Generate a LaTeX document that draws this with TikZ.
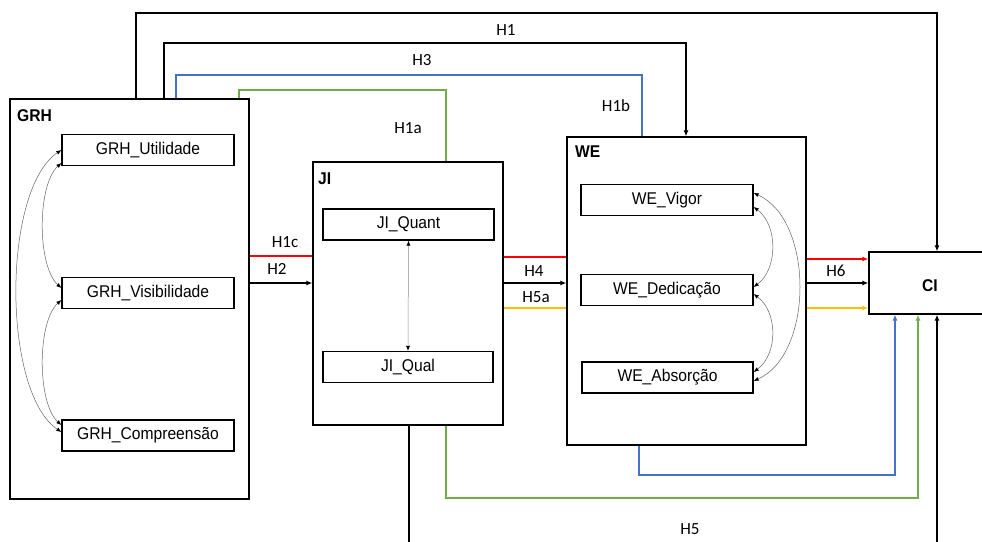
\documentclass[tikz,border=0pt]{standalone}
\usepackage{fontspec}
\setmainfont{Carlito}
\newfontfamily\boxfont[FakeStretch=0.92]{Liberation Sans}
\usetikzlibrary{arrows.meta}
\definecolor{cred}{RGB}{255,0,0}
\definecolor{cblue}{RGB}{68,114,196}
\definecolor{cgreen}{RGB}{112,173,71}
\definecolor{cyellow}{RGB}{255,192,0}
\tikzset{
  bigbox/.style={draw=black, line width=1.3pt, fill=white, rectangle, inner sep=0pt},
  varbox/.style={draw=black, line width=1.3pt, fill=white, rectangle, minimum width=172pt, minimum height=31pt, inner sep=0pt, font=\boxfont\fontsize{17}{20}\selectfont},
  ttl/.style={font=\boxfont\bfseries\fontsize{17}{20}\selectfont, inner sep=0pt},
  lbl/.style={font=\fontsize{17}{20}\selectfont, inner sep=0pt},
  conn/.style={line width=1.4pt, draw=black},
  tip/.style={-{Latex[length=6pt,width=5pt]}},
  curv/.style={line width=0.5pt, draw=black!60, {Latex[length=5pt,width=4pt,black]}-{Latex[length=5pt,width=4pt,black]}},
}
\begin{document}
\begin{tikzpicture}[x=1pt,y=-1pt]
\useasboundingbox (0,0) rectangle (982,541);
\clip (0,0) rectangle (982,541);
\fill[white] (0,0) rectangle (982,541);

% big boxes
\node[bigbox, minimum width=239pt, minimum height=400pt] (GRH) at (129.5,299) {};
\node[bigbox, minimum width=190pt, minimum height=263pt] (JI) at (408,293.5) {};
\node[bigbox, minimum width=239pt, minimum height=308pt] (WE) at (686.5,291) {};
\node[bigbox, minimum width=122pt, minimum height=62pt] (CI) at (930,283) {};

% titles
\node[ttl, anchor=west] (tGRH) at (17,116) {GRH};
\node[ttl, anchor=west] (tJI) at (318,179) {JI};
\node[ttl, anchor=west] (tWE) at (575,152) {WE};
\node[ttl] (tCI) at (930,286) {CI};

% inner variables
\node[varbox] (GU) at (148,150) {GRH\_Utilidade};
\node[varbox] (GV) at (148,293) {GRH\_Visibilidade};
\node[varbox] (GC) at (148,435.5) {GRH\_Compreensão};
\node[varbox, minimum width=171pt] (JQ) at (408.5,224.5) {JI\_Quant};
\node[varbox, minimum width=170pt] (JL) at (408,367) {JI\_Qual};
\node[varbox] (WV) at (667,200) {WE\_Vigor};
\node[varbox] (WD) at (667,290) {WE\_Dedicação};
\node[varbox, minimum width=171pt] (WA) at (667.5,377.5) {WE\_Absorção};

% helper coordinates
\coordinate (a1) at (136,13);
\coordinate (b1) at (937,13);
\coordinate (a3) at (164,43);
\coordinate (b3) at (686,43);
\coordinate (ab) at (176,75);
\coordinate (bb) at (642,75);
\coordinate (ag) at (239,90);
\coordinate (bg) at (446,90);
\coordinate (r1) at (0,256);
\coordinate (r2) at (0,257);
\coordinate (r3) at (0,259);
\coordinate (m) at (0,283);
\coordinate (yl) at (0,308);
\coordinate (lb) at (639,475);
\coordinate (rb) at (895,475);
\coordinate (lg) at (446,498);
\coordinate (rg) at (918,498);
\coordinate (lk) at (409,560);
\coordinate (rk) at (937,560);

% top connectors
\draw[conn, tip] (GRH.north -| a1) -- (a1) -- (b1) -- (CI.north -| b1);
\draw[conn, tip] (GRH.north -| a3) -- (a3) -- (b3) -- (WE.north -| b3);
\draw[conn, draw=cblue] (GRH.north -| ab) -- (ab) -- (bb) -- (WE.north -| bb);
\draw[conn, draw=cgreen] (GRH.north -| ag) -- (ag) -- (bg) -- (JI.north -| bg);

% horizontal connectors
\draw[conn, draw=cred] (GRH.east |- r1) -- (JI.west |- r1);
\draw[conn, tip] (GRH.east |- m) -- (JI.west |- m);
\draw[conn, draw=cred] (JI.east |- r2) -- (WE.west |- r2);
\draw[conn, tip] (JI.east |- m) -- (WE.west |- m);
\draw[conn, draw=cyellow] (JI.east |- yl) -- (WE.west |- yl);
\draw[conn, draw=cred, -{Latex[length=6pt,width=5pt,cred]}] (WE.east |- r3) -- (CI.west |- r3);
\draw[conn, tip] (WE.east |- m) -- (CI.west |- m);
\draw[conn, draw=cyellow, -{Latex[length=6pt,width=5pt,cyellow]}] (WE.east |- yl) -- (CI.west |- yl);

% bottom connectors
\draw[conn, draw=cblue, -{Latex[length=6pt,width=5pt,cblue]}] (WE.south -| lb) -- (lb) -- (rb) -- (CI.south -| rb);
\draw[conn, draw=cgreen, -{Latex[length=6pt,width=5pt,cgreen]}] (JI.south -| lg) -- (lg) -- (rg) -- (CI.south -| rg);
\draw[conn, tip] (JI.south -| lk) -- (lk) -- (rk) -- (CI.south -| rk);

% labels
\node[lbl] (lH1) at (506,30.5) {H1};
\node[lbl] (lH3) at (422,60) {H3};
\node[lbl] (lH1b) at (616,106) {H1b};
\node[lbl] (lH1a) at (408,128) {H1a};
\node[lbl] (lH1c) at (285,242) {H1c};
\node[lbl] (lH2) at (277,269) {H2};
\node[lbl] (lH4) at (534,271) {H4};
\node[lbl] (lH5a) at (536,297) {H5a};
\node[lbl] (lH6) at (836,271) {H6};
\node[lbl] (lH5) at (690,529) {H5};

% correlations in GRH
\draw[curv] ([yshift=-13pt]GU.west) .. controls (37,185) and (37,266) .. ([yshift=5pt]GV.west);
\draw[curv] (GU.west) .. controls (2,190) and (2,392) .. ([yshift=3.5pt]GC.west);
\draw[curv] ([yshift=-7pt]GV.west) .. controls (37,322) and (37,403) .. ([yshift=10.5pt]GC.west);

% correlation in JI
\draw[curv, draw=black!45] (JQ.south) -- (JL.north);

% correlations in WE
\draw[curv] ([yshift=-7pt]WV.east) .. controls (778,225) and (778,269) .. ([yshift=3pt]WD.east);
\draw[curv] ([yshift=-4pt]WD.east) .. controls (778,312) and (778,354) .. ([yshift=5.5pt]WA.east);
\draw[curv] ([yshift=7pt]WV.east) .. controls (814,220) and (814,354) .. ([yshift=-3.5pt]WA.east);
\end{tikzpicture}
\end{document}
